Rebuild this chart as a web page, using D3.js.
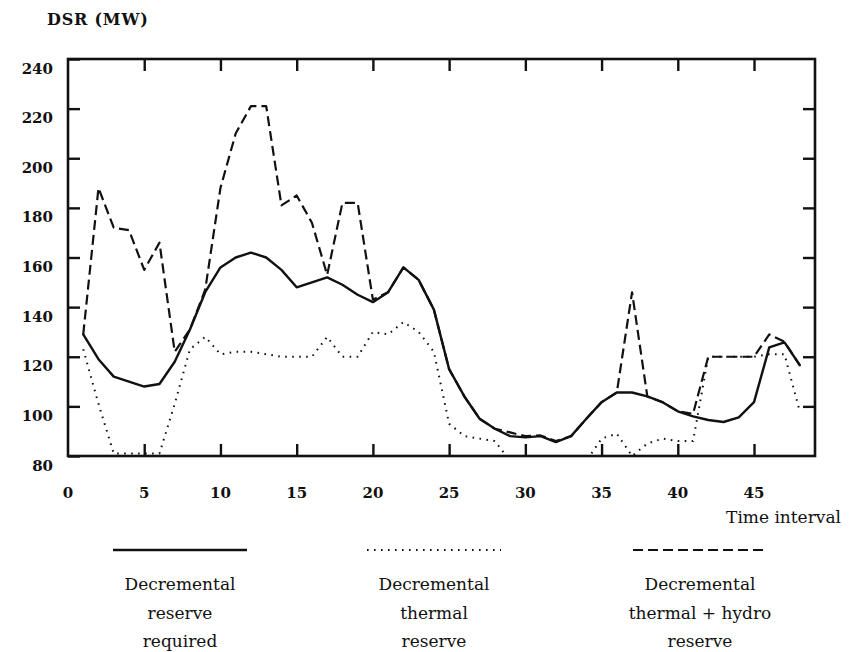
<!DOCTYPE html>
<html>
<head>
<meta charset="utf-8">
<script src="https://cdn.jsdelivr.net/npm/d3@7"></script>
<style>
body { margin: 0; background: #fff; }
text { font-family: "DejaVu Serif", serif; fill: #111; }
</style>
</head>
<body>
<svg id="chart" width="859" height="652"></svg>
<script>
// time intervals 1..48
const intervals = d3.range(1, 49);

const reserveRequired = [129, 119, 112, 110, 108, 109, 118, 131, 146, 156,
    160, 162, 160, 155, 148, 150, 152, 149, 145, 142,
    146, 156, 151, 139, 115, 104, 95, 91, 88, 87.5,
    88, 85.6, 88, 95, 101.7, 105.6, 105.6, 104, 101.7, 98,
    96, 94.5, 93.7, 95.6, 101.7, 123.8, 125.8, 116.6];

const thermalReserve = [123, 101, 81, 81, 81, 81, 101, 123, 128, 121,
    122, 122, 121, 120, 120, 120, 128, 120, 120, 130,
    129, 134, 130, 122, 93, 88, 87, 86, 78, 78,
    78, 78, 78, 78, 87, 89, 80, 85, 87, 86,
    86, 120, 120, 120, 120, 121, 121, 98];

const thermalHydroReserve = [129, 188, 172, 171, 155, 166, 122, 131, 147, 188,
    210, 221, 221, 181, 185, 174, 153, 182, 182, 143,
    146, 156, 151, 139, 115, 104, 95, 91, 89.5, 88,
    88.3, 86, 88, 95, 101.7, 105.6, 146, 104, 101.7, 98,
    97, 120, 120, 120, 120, 129, 126, 116.6];

const xTicks = [0, 5, 10, 15, 20, 25, 30, 35, 40, 45];
const yTicks = [80, 100, 120, 140, 160, 180, 200, 220, 240];

const legendItems = [
    {values: reserveRequired, dash: null, width: 2.4, lines: ["Decremental", "reserve", "required"]},
    {values: thermalReserve, dash: "1.6,5.4", width: 2, lines: ["Decremental", "thermal", "reserve"]},
    {values: thermalHydroReserve, dash: "10,5", width: 2.2, lines: ["Decremental", "thermal + hydro", "reserve"]}
];

const plotLeft = 68;
const plotRight = 815;
const plotTop = 59;
const plotBottom = 456;
const tickLength = 12;

const svg = d3.select("#chart");

const x = d3.scaleLinear().domain([0, 49]).range([plotLeft, plotRight]);
const y = d3.scaleLinear().domain([80, 240]).range([plotBottom, plotTop]);

svg.append("defs").append("clipPath")
    .attr("id", "plot-clip")
    .append("rect")
    .attr("x", plotLeft)
    .attr("y", plotTop)
    .attr("width", plotRight - plotLeft)
    .attr("height", plotBottom - plotTop);

// axes: ticks point inward on all four sides
const styleAxis = (g) =>
{
    g.select(".domain").remove();
    g.selectAll(".tick line").attr("stroke", "#111").attr("stroke-width", 2.4);
}

svg.append("g")
    .attr("transform", `translate(${plotLeft},0)`)
    .call(d3.axisLeft(y).tickValues(yTicks).tickSizeInner(-tickLength).tickSizeOuter(0).tickPadding(15))
    .call(styleAxis)
    .call(g => g.selectAll(".tick text")
        .attr("dy", 14)
        .attr("font-size", 15)
        .attr("font-weight", "bold")
        .attr("font-family", "DejaVu Serif"));

svg.append("g")
    .attr("transform", `translate(${plotRight},0)`)
    .call(d3.axisRight(y).tickValues(yTicks.slice(1, -1)).tickSizeInner(-tickLength).tickSizeOuter(0).tickFormat(""))
    .call(styleAxis);

svg.append("g")
    .attr("transform", `translate(0,${plotBottom})`)
    .call(d3.axisBottom(x).tickValues(xTicks.slice(1)).tickSizeInner(-tickLength).tickSizeOuter(0).tickFormat(""))
    .call(styleAxis);

svg.append("g")
    .attr("transform", `translate(0,${plotTop})`)
    .call(d3.axisTop(x).tickValues(xTicks.slice(1)).tickSizeInner(-tickLength).tickSizeOuter(0).tickFormat(""))
    .call(styleAxis);

svg.append("g")
    .selectAll("text")
    .data(xTicks)
    .join("text")
    .attr("x", d => x(d))
    .attr("y", 498)
    .attr("text-anchor", "middle")
    .attr("font-size", 15)
    .attr("font-weight", "bold")
    .text(d => d);

svg.append("rect")
    .attr("x", plotLeft)
    .attr("y", plotTop)
    .attr("width", plotRight - plotLeft)
    .attr("height", plotBottom - plotTop)
    .attr("fill", "none")
    .attr("stroke", "#111")
    .attr("stroke-width", 2.6);

svg.append("text")
    .attr("x", 47)
    .attr("y", 25)
    .attr("font-size", 16)
    .attr("font-weight", "bold")
    .attr("letter-spacing", 0.8)
    .text("DSR (MW)");

svg.append("text")
    .attr("x", 841)
    .attr("y", 523)
    .attr("text-anchor", "end")
    .attr("font-size", 17)
    .text("Time interval");

// series
const line = d3.line()
    .x((d, i) => x(intervals[i]))
    .y(d => y(d));

const lines = svg.append("g").attr("clip-path", "url(#plot-clip)");

legendItems.forEach(item =>
{
    lines.append("path")
        .datum(item.values)
        .attr("d", line)
        .attr("fill", "none")
        .attr("stroke", "#111")
        .attr("stroke-width", item.width)
        .attr("stroke-linejoin", "round")
        .attr("stroke-linecap", item.dash ? "butt" : "round")
        .attr("stroke-dasharray", item.dash);
});

// legend below the chart
const legendCenters = [180, 434, 700];
const legendHalf = 67;

legendItems.forEach((item, i) =>
{
    const cx = legendCenters[i];
    svg.append("line")
        .attr("x1", cx - legendHalf)
        .attr("x2", cx + legendHalf)
        .attr("y1", 550)
        .attr("y2", 550)
        .attr("stroke", "#111")
        .attr("stroke-width", item.width)
        .attr("stroke-dasharray", item.dash);

    svg.append("g")
        .selectAll("text")
        .data(item.lines)
        .join("text")
        .attr("x", cx)
        .attr("y", (d, j) => 590 + j * 28.5)
        .attr("text-anchor", "middle")
        .attr("font-size", 17)
        .text(d => d);
});
</script>
</body>
</html>
